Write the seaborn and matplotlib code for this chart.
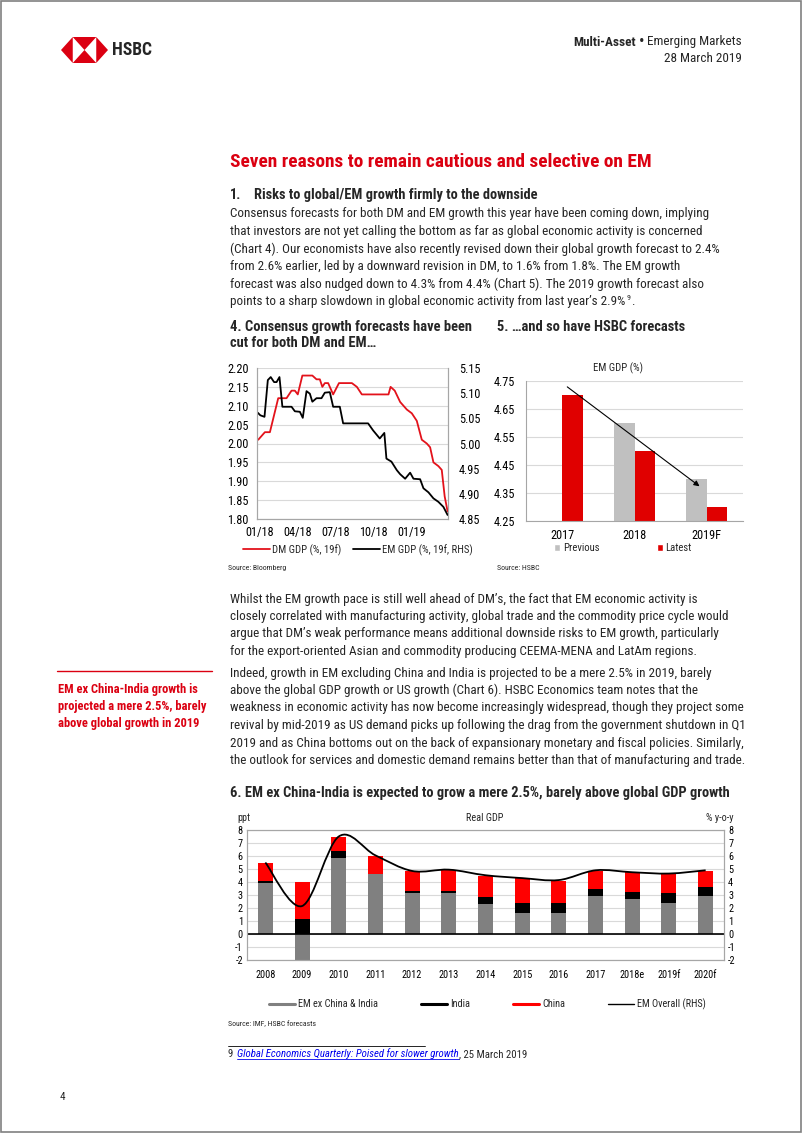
import numpy as np
import pandas as pd
import seaborn as sns
import matplotlib
matplotlib.use("Agg")
import matplotlib.pyplot as plt
from matplotlib.lines import Line2D
from matplotlib.patches import Patch, Polygon, Rectangle, PathPatch
from matplotlib.path import Path
from matplotlib.ticker import FormatStrFormatter
from matplotlib import font_manager

# -------------------------------
# Chart data
# -------------------------------
# Chart 4: consensus 2019 GDP forecasts
dm_dates = ["2017-12-28", "2018-01-13", "2018-01-25", "2018-02-14", "2018-03-06", "2018-03-18",
            "2018-03-26", "2018-04-02", "2018-04-13", "2018-05-07", "2018-05-17", "2018-05-25",
            "2018-05-31", "2018-06-06", "2018-06-14", "2018-06-26", "2018-07-10", "2018-08-10",
            "2018-08-22", "2018-09-03", "2018-11-06", "2018-11-11", "2018-11-21", "2018-12-04",
            "2018-12-20", "2019-01-01", "2019-01-13", "2019-01-25", "2019-02-06", "2019-02-14",
            "2019-02-22", "2019-03-06", "2019-03-14", "2019-03-21", "2019-03-28"]
dm_gdp = [2.01, 2.03, 2.03, 2.12, 2.12, 2.14, 2.14, 2.13, 2.18, 2.18, 2.17, 2.17,
          2.15, 2.16, 2.16, 2.13, 2.16, 2.16, 2.15, 2.13, 2.13, 2.15, 2.14, 2.11,
          2.09, 2.08, 2.06, 2.01, 2.00, 1.99, 1.95, 1.94, 1.93, 1.86, 1.82]

em_dates = ["2017-12-27", "2018-01-02", "2018-01-12", "2018-01-20", "2018-01-27", "2018-02-04",
            "2018-02-10", "2018-02-17", "2018-02-24", "2018-03-18", "2018-03-26", "2018-04-07",
            "2018-04-14", "2018-04-23", "2018-05-01", "2018-05-07", "2018-05-17", "2018-05-29",
            "2018-06-06", "2018-06-18", "2018-06-26", "2018-07-12", "2018-07-20", "2018-09-18",
            "2018-09-30", "2018-10-16", "2018-10-27", "2018-11-01", "2018-11-13", "2018-11-26",
            "2018-12-04", "2018-12-16", "2018-12-28", "2019-01-05", "2019-01-21", "2019-01-29",
            "2019-02-10", "2019-02-22", "2019-03-06", "2019-03-18", "2019-03-28"]
em_gdp = [5.061, 5.056, 5.053, 5.126, 5.132, 5.122, 5.122, 5.132, 5.073, 5.073, 5.064, 5.063,
          5.051, 5.104, 5.099, 5.083, 5.090, 5.090, 5.101, 5.102, 5.073, 5.073, 5.040, 5.040,
          5.026, 5.010, 5.021, 4.970, 4.964, 4.947, 4.939, 4.930, 4.942, 4.930, 4.929, 4.911,
          4.903, 4.891, 4.884, 4.874, 4.858]
c4_ticks = ["2018-01-01", "2018-04-01", "2018-07-01", "2018-10-01", "2019-01-01"]
c4_ticklabels = ["01/18", "04/18", "07/18", "10/18", "01/19"]

# Chart 5: HSBC EM GDP forecasts
c5_years = ["2017", "2018", "2019F"]
c5_previous = [np.nan, 4.6, 4.4]
c5_latest = [4.7, 4.5, 4.3]

# Chart 6: Real GDP contributions
c6_years = ["2008", "2009", "2010", "2011", "2012", "2013", "2014", "2015", "2016",
            "2017", "2018e", "2019f", "2020f"]
em_ex_ci = [3.90, -2.00, 5.87, 4.60, 3.12, 3.12, 2.29, 1.58, 1.58, 2.94, 2.68, 2.42, 2.94]
india = [0.20, 1.12, 0.49, 0.00, 0.20, 0.20, 0.59, 0.84, 0.78, 0.51, 0.57, 0.72, 0.64]
china = [1.38, 2.91, 1.12, 1.40, 1.51, 1.62, 1.61, 1.87, 1.74, 1.43, 1.50, 1.48, 1.30]
em_overall = [5.50, 2.15, 7.50, 6.05, 4.85, 4.95, 4.52, 4.30, 4.15, 4.90, 4.75, 4.65, 4.90]

# -------------------------------
# Page text
# -------------------------------
title = "Seven reasons to remain cautious and selective on EM"
heading = "Risks to global/EM growth firmly to the downside"
para1 = [
    "Consensus forecasts for both DM and EM growth this year have been coming down, implying",
    "that investors are not yet calling the bottom as far as global economic activity is concerned",
    "(Chart 4). Our economists have also recently revised down their global growth forecast to 2.4%",
    "from 2.6% earlier, led by a downward revision in DM, to 1.6% from 1.8%. The EM growth",
    "forecast was also nudged down to 4.3% from 4.4% (Chart 5). The 2019 growth forecast also",
    "points to a sharp slowdown in global economic activity from last year\u2019s 2.9%",
]
para2 = [
    "Whilst the EM growth pace is still well ahead of DM\u2019s, the fact that EM economic activity is",
    "closely correlated with manufacturing activity, global trade and the commodity price cycle would",
    "argue that DM\u2019s weak performance means additional downside risks to EM growth, particularly",
    "for the export-oriented Asian and commodity producing CEEMA-MENA and LatAm regions.",
]
para3 = [
    "Indeed, growth in EM excluding China and India is projected to be a mere 2.5% in 2019, barely",
    "above the global GDP growth or US growth (Chart 6). HSBC Economics team notes that the",
    "weakness in economic activity has now become increasingly widespread, though they project some",
    "revival by mid-2019 as US demand picks up following the drag from the government shutdown in Q1",
    "2019 and as China bottoms out on the back of expansionary monetary and fiscal policies. Similarly,",
    "the outlook for services and domestic demand remains better than that of manufacturing and trade.",
]
sidebar = ["EM ex China-India growth is", "projected a mere 2.5%, barely", "above global growth in 2019"]
c6_title = "6. EM ex China-India is expected to grow a mere 2.5%, barely above global GDP growth"

RED = "#DB0011"
GRID = "#D9D9D9"
SPINE = "#A6A6A6"

# -------------------------------
# Setup
# -------------------------------
sns.set_style("white")
names = {f.name for f in font_manager.fontManager.ttflist}
FONT = "Liberation Sans"
for cand in ["Liberation Sans Narrow", "Arial Narrow", "Roboto Condensed"]:
    if cand in names:
        FONT = cand
        break
plt.rcParams["font.family"] = [FONT, "DejaVu Sans"]
plt.rcParams["axes.unicode_minus"] = False

W, H = 802, 1133
fig = plt.figure(figsize=(W / 100, H / 100), dpi=100)
renderer = fig.canvas.get_renderer()


def rect(x0, y0, x1, y1):
    return [x0 / W, 1 - y1 / H, (x1 - x0) / W, (y1 - y0) / H]


def text_width(s, size, weight="normal", style="normal"):
    t = fig.text(0, 0, s, fontsize=size, weight=weight, style=style)
    w = t.get_window_extent(renderer=renderer).width
    t.remove()
    return w


def fit(s, target, weight="normal"):
    return 10 * target / text_width(s, 10, weight)


def put(x, y, s, size, **kw):
    kw.setdefault("va", "center")
    return fig.text(x / W, 1 - y / H, s, fontsize=size, **kw)


def put_runs(x, y, runs, ha="left"):
    ws = [text_width(s, sz, kw.get("weight", "normal"), kw.get("style", "normal"))
          for s, sz, kw, g in runs]
    total = sum(ws) + sum(r[3] for r in runs[:-1])
    if ha == "right":
        x -= total
    spans = []
    for (s, sz, kw, g), w in zip(runs, ws):
        put(x, y, s, sz, **kw)
        spans.append((x, x + w))
        x += w + g
    return spans


body_fs = min(fit(para1[0], 498), fit(para3[3], 510), fit(para2[1], 510))
title_fs = fit(title, 421, "bold")
head_fs = fit(heading, 283, "bold")
ctitle_fs = fit("4. Consensus growth forecasts have been", 242, "bold")
c6title_fs = fit(c6_title, 498, "bold")
side_fs = fit(sidebar[1], 149, "bold")
hdr_fs = fit("28 March 2019", 78)
c4_fs = fit("EM GDP (%, 19f, RHS)", 90)
tick_fs = fit("2.20", 21)
c6_fs = fit("EM ex China & India", 80)
src_fs = fit("Source: IMF, HSBC forecasts", 88)
foot_fs = fit("9 Global Economics Quarterly: Poised for slower growth, 25 March 2019", 302)

# -------------------------------
# Header, page frame, logo
# -------------------------------
fig.add_artist(Rectangle((0.6 / W, 0.6 / H), (W - 1.2) / W, (H - 1.2) / H,
                         transform=fig.transFigure, fill=False, edgecolor="#808080", lw=1.2))

logo = fig.add_axes(rect(61, 37, 108, 63))
logo.set_xlim(0, 47)
logo.set_ylim(0, 26)
logo.axis("off")
for pts in [[(0, 13), (11.75, 26), (11.75, 0)], [(47, 13), (35.25, 26), (35.25, 0)],
            [(11.75, 26), (35.25, 26), (23.5, 13)], [(11.75, 0), (35.25, 0), (23.5, 13)]]:
    logo.add_patch(Polygon(pts, closed=True, facecolor=RED, edgecolor="none"))
put(112, 50, "HSBC", fit("HSBC", 40, "bold"), weight="bold")

put_runs(742, 42, [("Multi-Asset", hdr_fs, {"weight": "bold"}, 3),
                   ("\u2022", hdr_fs * 1.2, {}, 3),
                   ("Emerging Markets", hdr_fs, {}, 0)], ha="right")
put(742, 58, "28 March 2019", hdr_fs, ha="right")

# -------------------------------
# Body text
# -------------------------------
put(230, 162, title, title_fs, weight="bold", color=RED)
put(230, 195, "1.", head_fs, weight="bold")
put(254, 195, heading, head_fs, weight="bold")

LINE = 17.5
for i, line in enumerate(para1):
    put(230, 214 + i * LINE, line, body_fs)
y_last = 214 + (len(para1) - 1) * LINE
w_last = text_width(para1[-1], body_fs)
w9 = text_width("9", body_fs * 0.6)
put(230 + w_last + 1, y_last - 4, "9", body_fs * 0.6)
put(230 + w_last + w9 + 2, y_last, ".", body_fs)

put(230, 327, "4. Consensus growth forecasts have been", ctitle_fs, weight="bold")
put(230, 343, "cut for both DM and EM\u2026", ctitle_fs, weight="bold")
put(497, 327, "5. \u2026and so have HSBC forecasts", ctitle_fs, weight="bold")

for i, line in enumerate(para2):
    put(230, 599 + i * LINE, line, body_fs)
for i, line in enumerate(para3):
    put(230, 673 + i * LINE, line, body_fs)

fig.add_artist(Line2D([57 / W, 212 / W], [1 - 671 / H, 1 - 671 / H], color=RED, lw=1.0,
                      transform=fig.transFigure))
for i, line in enumerate(sidebar):
    put(58, 689 + i * 17.5, line, side_fs, weight="bold", color=RED)

put(230, 793, c6_title, c6title_fs, weight="bold")


def style_axes(ax, fs):
    ax.set_xlabel("")
    ax.set_ylabel("")
    ax.tick_params(length=0, labelsize=fs, colors="black", pad=3)
    for s in ax.spines.values():
        s.set_color(SPINE)
        s.set_linewidth(0.8)


# -------------------------------
# Chart 4
# -------------------------------
ax4 = fig.add_axes(rect(257, 368, 448, 519))
sns.lineplot(x=pd.to_datetime(dm_dates), y=dm_gdp, ax=ax4, color="#E3121B", linewidth=1.3)
ax4.set_ylim(1.80, 2.20)
ax4.set_yticks(np.arange(1.80, 2.2001, 0.05))
ax4.yaxis.set_major_formatter(FormatStrFormatter("%.2f"))
ax4.set_xlim(pd.Timestamp("2017-12-25"), pd.Timestamp("2019-03-29"))
ax4.set_xticks(pd.to_datetime(c4_ticks))
ax4.set_xticklabels(c4_ticklabels)
ax4.yaxis.grid(True, color=GRID, lw=0.8)
ax4.set_axisbelow(True)
style_axes(ax4, tick_fs)
ax4.spines["top"].set_visible(False)

ax4r = ax4.twinx()
sns.lineplot(x=pd.to_datetime(em_dates), y=em_gdp, ax=ax4r, color="black", linewidth=1.3)
ax4r.set_ylim(4.85, 5.15)
ax4r.set_yticks(np.arange(4.85, 5.1501, 0.05))
ax4r.yaxis.set_major_formatter(FormatStrFormatter("%.2f"))
style_axes(ax4r, tick_fs)
ax4r.spines["top"].set_visible(False)
ax4r.tick_params(pad=8)
ax4.tick_params(axis="y", pad=6)
ax4.tick_params(axis="x", pad=5)

fs_px = c4_fs * 100 / 72
fig.legend([Line2D([], [], color="#E3121B", lw=1.3), Line2D([], [], color="black", lw=1.3)],
           ["DM GDP (%, 19f)", "EM GDP (%, 19f, RHS)"], loc="center",
           bbox_to_anchor=((245 + 470) / 2 / W, 1 - 550 / H), ncol=2, frameon=False,
           fontsize=c4_fs, handlelength=27 / fs_px, handletextpad=2 / fs_px,
           columnspacing=12 / fs_px, borderpad=0, borderaxespad=0)
put(228, 568, "Source: Bloomberg", src_fs)

# -------------------------------
# Chart 5
# -------------------------------
ax5 = fig.add_axes(rect(526, 381, 743, 521))
df5 = pd.DataFrame({"year": c5_years * 2,
                    "series": ["Previous"] * 3 + ["Latest"] * 3,
                    "value": c5_previous + c5_latest})
sns.barplot(data=df5, x="year", y="value", hue="series", order=c5_years,
            hue_order=["Previous", "Latest"],
            palette={"Previous": "#C0C0C0", "Latest": "#E00000"},
            width=0.57, saturation=1, errorbar=None, legend=False, linewidth=0, ax=ax5)
ax5.set_ylim(4.25, 4.75)
ax5.set_yticks(np.arange(4.25, 4.7501, 0.10))
ax5.yaxis.set_major_formatter(FormatStrFormatter("%.2f"))
ax5.yaxis.grid(True, color=GRID, lw=0.8)
ax5.set_axisbelow(True)
style_axes(ax5, tick_fs)
ax5.spines["top"].set_visible(False)
ax5.spines["right"].set_visible(False)
ax5.tick_params(axis="y", pad=8)
ax5.tick_params(axis="x", pad=6)
ax5.annotate("", xy=(1.93, 4.368), xytext=(0.04, 4.735),
             arrowprops=dict(arrowstyle="-|>", color="black", lw=0.8, mutation_scale=8))
put(618, 368, "EM GDP (%)", fit("EM GDP (%)", 50))
fig.texts[-1].set_ha("center")
fig.legend([Patch(facecolor="#C0C0C0"), Patch(facecolor="#E00000")], ["Previous", "Latest"],
           loc="center", bbox_to_anchor=(623 / W, 1 - 548 / H), ncol=2, frameon=False,
           fontsize=c4_fs, handlelength=6 / fs_px, handleheight=6 / fs_px,
           handletextpad=3 / fs_px, columnspacing=57 / fs_px, borderpad=0, borderaxespad=0)
put(497, 568, "Source: HSBC", src_fs)

# -------------------------------
# Chart 6
# -------------------------------
ax6 = fig.add_axes(rect(247, 830, 724, 960))
base_pos = np.clip(np.array(em_ex_ci), 0, None)
top_india = base_pos + np.array(india)
top_china = top_india + np.array(china)
sns.barplot(x=c6_years, y=top_china, order=c6_years, color="#FF0000", width=0.41,
            saturation=1, errorbar=None, linewidth=0, ax=ax6)
sns.barplot(x=c6_years, y=top_india, order=c6_years, color="black", width=0.41,
            saturation=1, errorbar=None, linewidth=0, ax=ax6)
sns.barplot(x=c6_years, y=em_ex_ci, order=c6_years, color="#808080", width=0.41,
            saturation=1, errorbar=None, linewidth=0, ax=ax6)
ax6.set_ylim(-2, 8)
ax6.set_yticks(range(-2, 9))
ax6.yaxis.grid(True, color=GRID, lw=0.8)
ax6.set_axisbelow(True)
ax6.axhline(0, color="black", lw=1.2)
style_axes(ax6, c6_fs)
ax6.tick_params(axis="x", pad=7)

ax6r = ax6.twinx()
ax6r.set_ylim(-2, 8)
ax6r.set_yticks(range(-2, 9))
style_axes(ax6r, c6_fs)
# smoothed line (Catmull-Rom style Bezier through the yearly points)
pts = np.column_stack([np.arange(len(em_overall)), em_overall]).astype(float)
verts, codes = [pts[0]], [Path.MOVETO]
for i in range(len(pts) - 1):
    p0 = pts[max(i - 1, 0)]
    p1, p2 = pts[i], pts[i + 1]
    p3 = pts[min(i + 2, len(pts) - 1)]
    verts += [p1 + (p2 - p0) / 6, p2 - (p3 - p1) / 6, p2]
    codes += [Path.CURVE4] * 3
ax6r.add_patch(PathPatch(Path(verts, codes), fill=False, edgecolor="black", lw=1.3))

put(244, 818, "ppt", c6_fs, ha="center")
put(485, 818, "Real GDP", c6_fs, ha="center")
put(733, 818, "% y-o-y", c6_fs, ha="right")

fs6_px = c6_fs * 100 / 72
fig.legend([Line2D([], [], color="#808080", lw=2.2), Line2D([], [], color="black", lw=2.2),
            Line2D([], [], color="#FF0000", lw=2.2), Line2D([], [], color="black", lw=1.0)],
           ["EM ex China & India", "India", "China", "EM Overall (RHS)"], loc="center",
           bbox_to_anchor=((270 + 705) / 2 / W, 1 - 1004 / H), ncol=4, frameon=False,
           fontsize=c6_fs, handlelength=26 / fs6_px, handletextpad=3 / fs6_px,
           columnspacing=43 / fs6_px, borderpad=0, borderaxespad=0)
put(228, 1024, "Source: IMF, HSBC forecasts", src_fs)

# footnote
fig.add_artist(Line2D([228 / W, 425 / W], [1 - 1046 / H, 1 - 1046 / H], color="black", lw=0.6,
                      transform=fig.transFigure))
spans = put_runs(228, 1054, [("9", foot_fs, {}, 4),
                             ("Global Economics Quarterly: Poised for slower growth", foot_fs,
                              {"style": "italic", "color": "#0000EE"}, 0),
                             (", 25 March 2019", foot_fs, {}, 0)])
x0, x1 = spans[1]
fig.add_artist(Line2D([x0 / W, x1 / W], [1 - 1059 / H, 1 - 1059 / H], color="#0000EE", lw=0.6,
                      transform=fig.transFigure))

put(60, 1097, "4", body_fs * 0.85)

fig.savefig("out.png", dpi=100)
